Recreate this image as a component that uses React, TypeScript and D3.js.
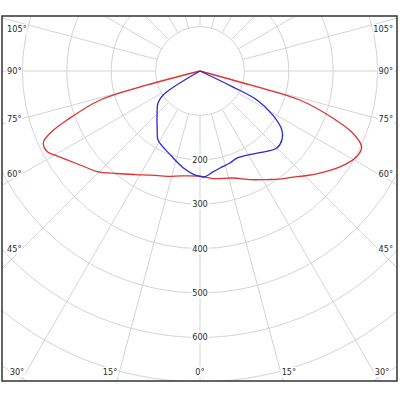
import React from "react";
import * as d3 from "d3";

// Luminous intensity (cd/klm) vs. signed angle (deg, negative = left, 0 = straight down)
const redAngles = [-90, -75.2, -73.8, -69.8, -67.5, -65.4, -62.1, -60, -56.2, -51, -45.6, -39, -32, -25, -17, -10, 0, 7, 17, 25, 31.6, 36.2, 40.1, 48.6, 55.6, 61.3, 64.9, 67.9, 70.5, 73.8, 74.4, 90];
const redValues = [0, 123, 234, 318, 365, 388, 389, 378, 360, 340, 324, 297, 275, 259, 248, 240, 237, 244, 252, 270, 287, 302, 314, 350, 382, 402, 402, 371, 317, 234, 117, 0];

const blueAngles = [-90, -57, -52.7, -45.7, -36, -31.3, -19.7, -9.9, -1.6, 2.7, 7.3, 11.7, 18, 23, 30, 36.2, 45, 50, 54.3, 58.9, 63, 64.1, 90];
const blueValues = [0, 99, 119, 135, 164, 182, 200, 221, 236, 238, 229, 223, 218, 213, 218, 228, 245, 241, 227, 191, 144, 82, 0];

const ringValues = [100, 200, 300, 400, 500, 600, 700, 800, 900];
const ringLabels = [200, 300, 400, 500, 600];
const spokeAngles = d3.range(0, 360, 15);
const angleLabels = [0, 15, 30, 45, 60, 75, 90, 105];

const W = 400, H = 400;
const frame = { x: 2, y: 16, w: 395, h: 365 };
const cx = 200, cy = 71;
const FONT = "DejaVu Sans, Verdana, sans-serif";

export default function App() {
  const r = d3.scaleLinear().domain([0, 100]).range([0, 44.4]);
  const rad = (d: number) => (d * Math.PI) / 180;

  const line = d3
    .lineRadial<[number, number]>()
    .angle((d) => Math.PI - rad(d[0]))
    .radius((d) => r(d[1]))
    .curve(d3.curveCatmullRom.alpha(0.5));

  const redPts = redAngles.map((a, i) => [a, redValues[i]] as [number, number]);
  const bluePts = blueAngles.map((a, i) => [a, blueValues[i]] as [number, number]);

  const rMax = r(ringValues[ringValues.length - 1]);

  const labelW = (s: string) => s.replace("°", "").length * 5.1 + (s.includes("°") ? 4 : 0);

  type Lab = { text: string; x: number; y: number; anchor: "start" | "middle" | "end" };
  const aLabs: Lab[] = [];
  angleLabels.forEach((t) => {
    if (t === 0) {
      aLabs.push({ text: "0°", x: cx, y: 372, anchor: "middle" });
      return;
    }
    [-1, 1].forEach((s) => {
      const ySide = cy + 178 * Math.cos(rad(t)) / Math.sin(rad(t));
      if (ySide <= 372) {
        aLabs.push({
          text: `${t}°`,
          x: s < 0 ? 7 : 393,
          y: Math.max(29, ySide),
          anchor: s < 0 ? "start" : "end",
        });
      } else {
        aLabs.push({
          text: `${t}°`,
          x: cx + s * (372 - cy) * Math.tan(rad(t)) + (s < 0 ? -2 : 1),
          y: 372,
          anchor: s < 0 ? "end" : "start",
        });
      }
    });
  });

  const rLabs: Lab[] = ringLabels.map((v) => ({ text: String(v), x: cx, y: cy + r(v), anchor: "middle" }));

  const bgRect = (l: Lab, i: number) => {
    const w = labelW(l.text) + 2;
    const x0 = l.anchor === "start" ? l.x - 1 : l.anchor === "end" ? l.x - w + 1 : l.x - w / 2;
    return <rect key={"b" + i} x={x0} y={l.y - 5} width={w} height={10} fill="#fff" />;
  };

  return (
    <svg width={W} height={H} style={{ position: "absolute", left: 0, top: 0, display: "block" }}>
      <defs>
        <clipPath id="frameClip">
          <rect x={frame.x} y={frame.y} width={frame.w} height={frame.h} />
        </clipPath>
      </defs>
      <rect x={0} y={0} width={W} height={H} fill="#fff" />
      <g clipPath="url(#frameClip)">
        {ringValues.map((v) => (
          <circle key={v} cx={cx} cy={cy} r={r(v)} fill="none" stroke="#d4d4d4" strokeWidth={1} />
        ))}
        {spokeAngles.map((a) => (
          <line
            key={a}
            x1={cx + Math.sin(rad(a)) * r(100)}
            y1={cy + Math.cos(rad(a)) * r(100)}
            x2={cx + Math.sin(rad(a)) * rMax}
            y2={cy + Math.cos(rad(a)) * rMax}
            stroke="#d4d4d4"
            strokeWidth={1}
          />
        ))}
        {rLabs.map(bgRect)}
        {aLabs.map((l, i) => bgRect(l, i + 100))}
        {rLabs.map((l, i) => (
          <text key={"r" + i} x={l.x} y={l.y} textAnchor={l.anchor} dominantBaseline="central" fontFamily={FONT} fontSize={8.2} fill="#2a2a2a">
            {l.text}
          </text>
        ))}
        {aLabs.map((l, i) => (
          <text key={"a" + i} x={l.x} y={l.y} textAnchor={l.anchor} dominantBaseline="central" fontFamily={FONT} fontSize={8.2} fill="#2a2a2a">
            {l.text}
          </text>
        ))}
        <path d={line(redPts) || ""} transform={`translate(${cx},${cy})`} fill="none" stroke="#e03232" strokeWidth={1.3} strokeLinejoin="round" />
        <path d={line(bluePts) || ""} transform={`translate(${cx},${cy})`} fill="none" stroke="#2828d8" strokeWidth={1.3} strokeLinejoin="round" />
      </g>
      <rect x={frame.x} y={frame.y} width={frame.w} height={frame.h} fill="none" stroke="#333" strokeWidth={1.5} />
    </svg>
  );
}
